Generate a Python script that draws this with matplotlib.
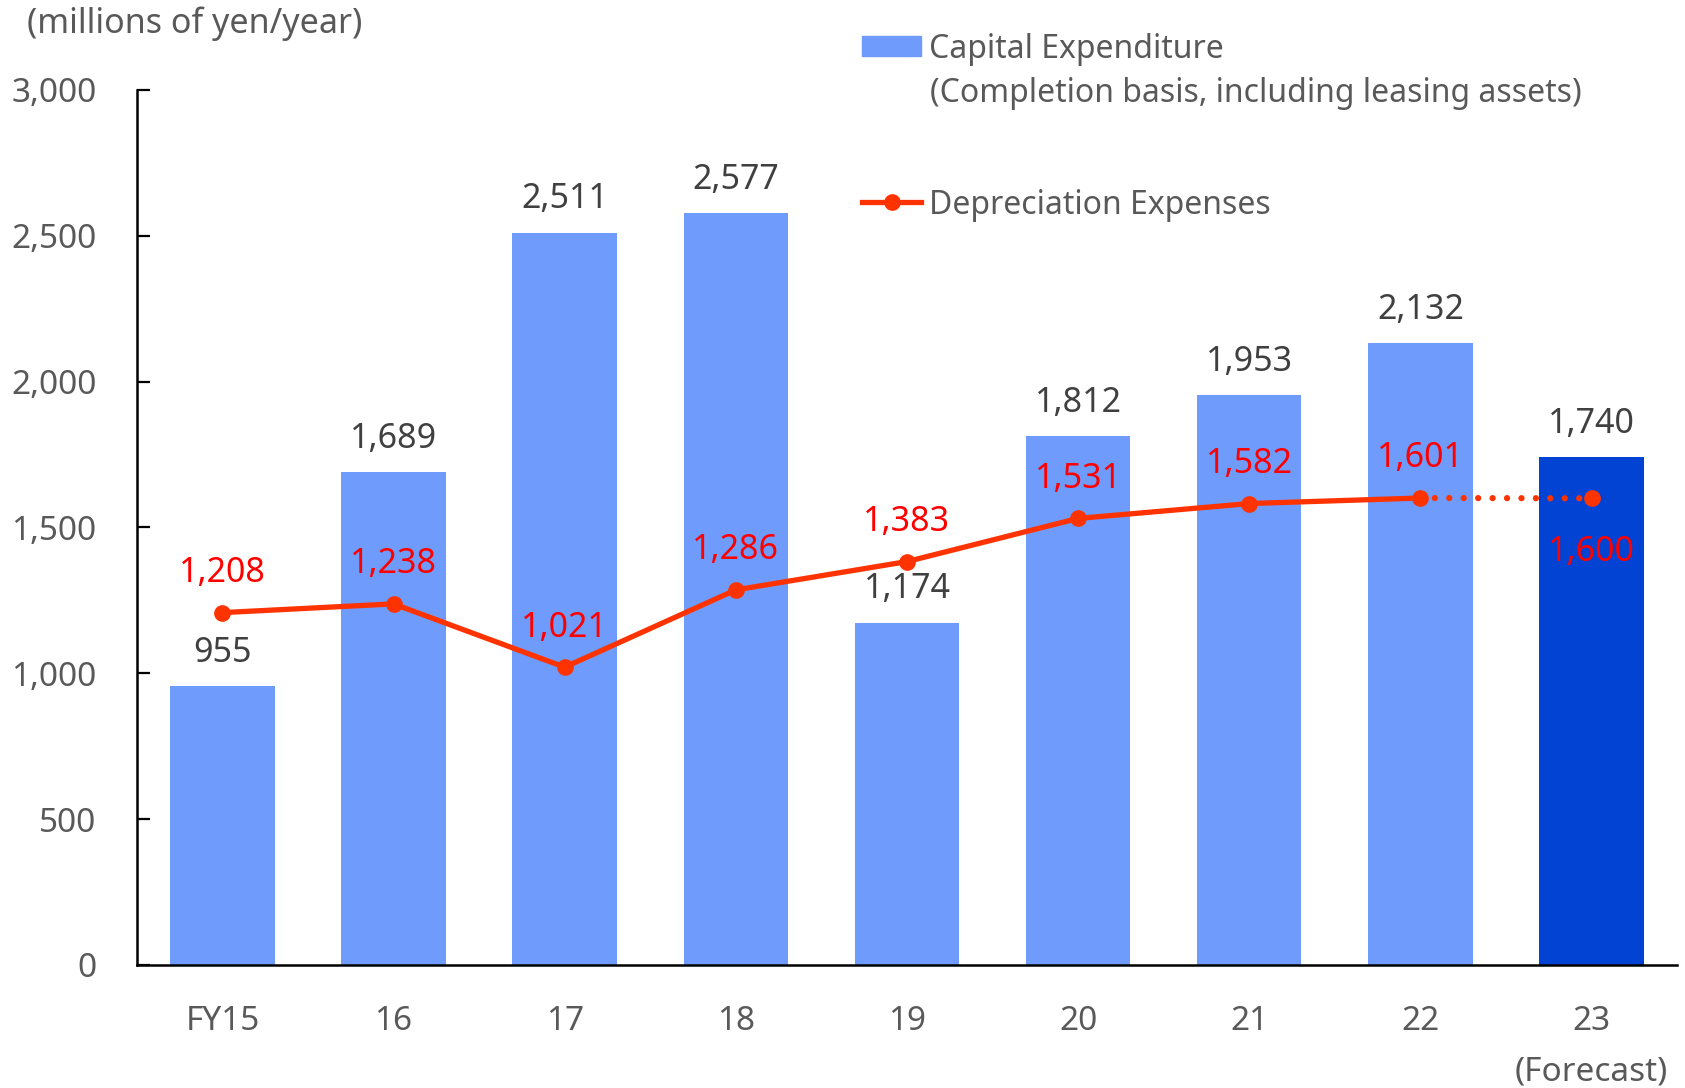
import matplotlib.pyplot as plt
from matplotlib.patches import Patch
from matplotlib.lines import Line2D

plt.rcParams['font.family'] = ['Noto Sans', 'DejaVu Sans']

years = ["FY15", "16", "17", "18", "19", "20", "21", "22", "23\n(Forecast)"]
capex = [955, 1689, 2511, 2577, 1174, 1812, 1953, 2132, 1740]
depreciation = [1208, 1238, 1021, 1286, 1383, 1531, 1582, 1601, 1600]

bar_col = "#6F9BFC"
fc_col = "#0343D3"
line_col = "#FF3300"
txt_gray = "#595959"

fig = plt.figure(figsize=(16.85, 10.88), dpi=100)
ax = fig.add_axes([0.0812, 0.1131, 0.9141, 0.8042])

x = list(range(len(years)))
colors = [bar_col] * (len(years) - 1) + [fc_col]
bars = ax.bar(x, capex, width=0.61, color=colors, zorder=2)

# solid part (actuals) and dotted part (forecast)
ax.plot(x[:-1], depreciation[:-1], color=line_col, lw=3.8, marker="o", ms=11,
        zorder=4, solid_capstyle="round")
ax.plot(x[-2:], depreciation[-2:], color=line_col, lw=4.5, linestyle=(0, (0.01, 2.3)),
        dash_capstyle="round", zorder=3)
ax.plot(x[-1:], depreciation[-1:], color=line_col, marker="o", ms=11, lw=0, zorder=4)

for i, v in enumerate(capex):
    ax.annotate(f"{v:,}", (i, v), xytext=(0, 24), textcoords="offset points",
                ha="center", va="center", fontsize=24.5, color="#404040")

for i, v in enumerate(depreciation):
    dy = -39 if i == len(depreciation) - 1 else 28.5
    ax.annotate(f"{v:,}", (i, v), xytext=(0, dy), textcoords="offset points",
                ha="center", va="center", fontsize=24.5, color="#FF0000", zorder=5)

ax.set_xlim(-0.5, len(years) - 0.5)
ax.set_ylim(0, 3000)
ax.set_yticks(range(0, 3001, 500))
ax.set_yticklabels([f"{t:,}" for t in range(0, 3001, 500)])
ax.set_xticks(x)
ax.set_xticklabels(years, linespacing=1.7)

for s in ["top", "right"]:
    ax.spines[s].set_visible(False)
ax.spines["left"].set_linewidth(1.8)
ax.spines["bottom"].set_linewidth(1.8)
ax.spines["left"].set_color("black")
ax.spines["bottom"].set_color("black")

ax.tick_params(axis="y", direction="in", length=9.5, width=1.6, pad=29,
               labelsize=24, labelcolor=txt_gray)
ax.tick_params(axis="x", length=0, pad=29, labelsize=24, labelcolor=txt_gray)

fig.text(27 / 1685, 1 - 24 / 1088, "(millions of yen/year)", ha="left", va="center",
         fontsize=24.5, color=txt_gray)

leg1 = ax.legend([Patch(color=bar_col)], ["Capital Expenditure"],
                 loc="center left", bbox_to_anchor=(862 / 1685, 1 - 49 / 1088),
                 bbox_transform=fig.transFigure, frameon=False, fontsize=23,
                 handlelength=1.85, handleheight=0.6, handletextpad=0.25,
                 borderpad=0, borderaxespad=0, labelcolor=txt_gray)
ax.add_artist(leg1)
fig.text(930 / 1685, 1 - 94 / 1088, "(Completion basis, including leasing assets)",
         ha="left", va="center", fontsize=23, color=txt_gray)
ax.legend([Line2D([], [], color=line_col, lw=3.8, marker="o", ms=11)],
          ["Depreciation Expenses"],
          loc="center left", bbox_to_anchor=(862 / 1685, 1 - 205 / 1088),
          bbox_transform=fig.transFigure, frameon=False, fontsize=23,
          handlelength=1.85, handletextpad=0.25, borderpad=0, borderaxespad=0,
          labelcolor=txt_gray)

fig.savefig("out.png", dpi=100)
